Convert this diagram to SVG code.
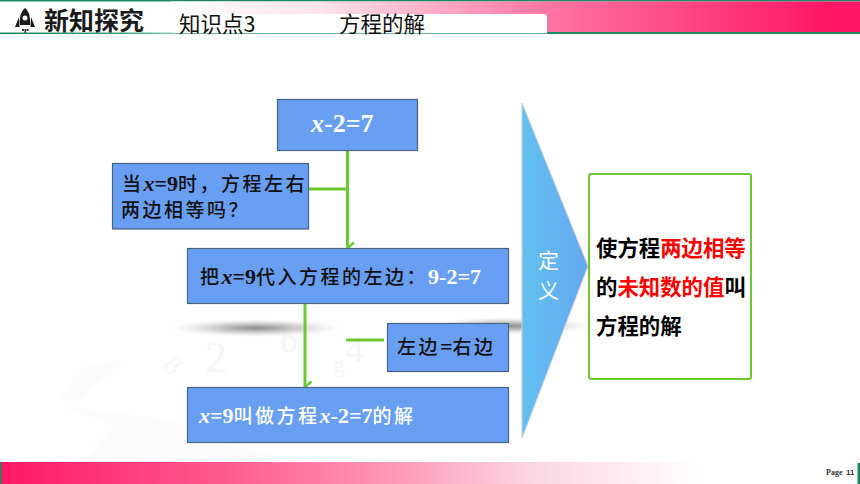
<svg xmlns="http://www.w3.org/2000/svg" width="860" height="484" viewBox="0 0 860 484">
<style>
.box{fill:#699ff3;stroke:#4c6484;stroke-width:1.2}
.c{font-family:"Noto Sans CJK SC","Liberation Sans",sans-serif}
.k{font-family:"Noto Sans CJK SC",sans-serif;font-size:19px;font-weight:500;letter-spacing:2.500px}
.l{font-family:"Liberation Serif",serif;font-weight:700;font-size:22px;letter-spacing:0}
.w{fill:#fff}
.conn{fill:none;stroke:#6cc832;stroke-width:3}
.bg{font-family:"Liberation Serif",serif;fill:#f6f6f6}
</style>
<defs>
<linearGradient id="top" x1="0" x2="1" y1="0" y2="0"><stop offset="0" stop-color="#fff"/><stop offset=".22" stop-color="#fde3eb"/><stop offset=".55" stop-color="#ff74a0"/><stop offset=".95" stop-color="#ff1766"/><stop offset="1" stop-color="#ff1766"/></linearGradient>
<linearGradient id="bot" gradientUnits="userSpaceOnUse" x1="0" x2="700" y1="0" y2="0"><stop offset="0" stop-color="#ff1766"/><stop offset=".32" stop-color="#ff5a8e"/><stop offset=".57" stop-color="#ff9ab8"/><stop offset=".75" stop-color="#fbd3e2"/><stop offset="1" stop-color="#fff"/></linearGradient>
<linearGradient id="grn" x1="0" x2="1" y1="0" y2="0"><stop offset="0" stop-color="#1b8a5e"/><stop offset=".7" stop-color="#3da57d"/><stop offset="1" stop-color="#8fcdb3"/></linearGradient>
<linearGradient id="tri" x1="0" x2="1" y1="0" y2="0"><stop offset="0" stop-color="#62c0f1"/><stop offset="1" stop-color="#66a8f1"/></linearGradient>
<radialGradient id="sh"><stop offset="0" stop-color="#8a8a8a"/><stop offset=".5" stop-color="#c8c8c8" stop-opacity=".85"/><stop offset="1" stop-color="#e8e8e8" stop-opacity="0"/></radialGradient>
<marker id="arr" markerUnits="userSpaceOnUse" markerWidth="14" markerHeight="12" refX="7" refY="10" orient="auto-start-reverse" viewBox="0 0 14 12"><path d="M1.500 3.500L7 10L12.500 3.500" fill="none" stroke="#6cc832" stroke-width="2.400"/></marker>
</defs>
<rect width="860" height="484" fill="#fff"/>
<g id="background">
<path d="M60 484L120 420L270 455L320 484Z" fill="#fdfcfa"/>
<path d="M60 400L85 365L125 360L80 400Z" fill="#fcfcfc"/>
<path d="M60 405L170 420L240 460L150 440Z" fill="#fefcfa"/>
<text class="bg" x="165" y="372" font-size="28" transform="rotate(45 170 365)">8</text>
<text class="bg" x="205" y="372" font-size="44">2</text>
<text class="bg" x="280" y="352" font-size="36">b</text>
<text class="bg" x="333" y="372" font-size="24">g</text>
<text class="bg" x="345" y="362" font-size="38">4</text>
</g>
<g id="header">
<rect x="0" y="0" width="860" height="1.500" fill="#1b8a5e"/>
<rect x="170" y="1.500" width="690" height="31" fill="url(#top)"/>
<rect x="170" y="14" width="377" height="20" rx="3" fill="#fff"/>
<rect x="0" y="32.500" width="174" height="1.600" fill="url(#grn)"/>
<rect x="174" y="33" width="373" height="1" fill="#6cb89c"/>
<rect x="547" y="32" width="313" height="2" fill="#1b8a5e"/>
<path d="M25 8C20.500 12 19.500 17 20 25H30C30.500 17 29.500 12 25 8ZM19 17L15 27H19.500ZM31 17L35 27H30.500Z" fill="#1a1a1a"/>
<circle cx="25" cy="18" r="2.500" fill="#fff"/>
<path d="M22 29H24V31H22ZM24.500 29H26V33H24.500ZM26.500 29H28.500V31H26.500Z" fill="#333"/>
<text class="c" x="44" y="30" font-size="25" font-weight="700" fill="#1a1a1a">新知探究</text>
<text class="c" x="179" y="32" font-size="21.500" fill="#111">知识点3</text>
<text class="c" x="339" y="32" font-size="21.500" fill="#111">方程的解</text>
</g>
<ellipse id="shadow-left" cx="256" cy="328" rx="86" ry="9" fill="url(#sh)"/>
<ellipse id="shadow-right" cx="510" cy="326" rx="82" ry="9" fill="url(#sh)"/>
<g id="connectors">
<path class="conn" d="M347.500 150V248" marker-end="url(#arr)"/>
<path class="conn" d="M309 189H347"/>
<path class="conn" d="M305 303V387" marker-end="url(#arr)"/>
<path class="conn" d="M346 340H384"/>
</g>
<g id="node-equation"><rect class="box" x="277.500" y="99.500" width="140" height="51"/>
<text class="l w" x="311" y="132" style="font-size:26px"><tspan font-style="italic">x</tspan>-2=7</text></g>
<g id="node-question"><rect class="box" x="112.500" y="163.500" width="196" height="65.500"/>
<text class="k" x="122" y="191" fill="#111">当<tspan class="l" font-style="italic">x</tspan><tspan class="l">=9</tspan>时，方程左右</text>
<text class="k" x="121" y="217" fill="#111">两边相等吗？</text></g>
<g id="node-substitute"><rect class="box" x="187.500" y="248.500" width="321" height="55"/>
<text class="k" x="200" y="284" fill="#111">把<tspan class="l" font-style="italic">x</tspan><tspan class="l">=9</tspan>代入方程的左边：<tspan class="l w">9-2=7</tspan></text></g>
<g id="node-equal"><rect class="box" x="387.500" y="323.500" width="121" height="48"/>
<text class="k" x="397" y="354" fill="#111">左边<tspan class="l">=</tspan>右边</text></g>
<g id="node-solution"><rect class="box" x="187.500" y="387.500" width="321" height="55"/>
<text class="k w" x="199" y="423"><tspan class="l" font-style="italic">x</tspan><tspan class="l">=9</tspan>叫做方程<tspan class="l" font-style="italic">x</tspan><tspan class="l">-2=7</tspan>的解</text></g>
<g id="node-define"><path d="M522 103L588 266L522 438Z" fill="url(#tri)" stroke="#c8d0d8" stroke-width="1"/>
<text class="c w" x="538" y="268" font-size="21">定</text>
<text class="c w" x="538" y="298" font-size="21">义</text></g>
<g id="node-meaning"><rect x="589" y="174" width="162" height="205" rx="2" fill="#fff" stroke="#6cc832" stroke-width="2"/>
<g class="c" font-size="21.400" font-weight="700" fill="#000">
<text x="596" y="256">使方程<tspan fill="#ff0000">两边相等</tspan></text>
<text x="596" y="295">的<tspan fill="#ff0000">未知数的值</tspan>叫</text>
<text x="596" y="334">方程的解</text></g></g>
<g id="footer">
<rect x="0" y="462" width="860" height="22" fill="url(#bot)"/>
<rect x="0" y="462" width="1.500" height="22" fill="#1b8a5e"/>
<rect x="857.500" y="463" width="2.500" height="21" fill="#1b8a5e"/>
<text x="826" y="475" font-family="Liberation Serif,serif" font-size="8" font-weight="700" fill="#333">Page</text>
<text x="846" y="475" font-family="Liberation Sans,sans-serif" font-size="8" font-weight="700" fill="#333">11</text>
</g>
</svg>
